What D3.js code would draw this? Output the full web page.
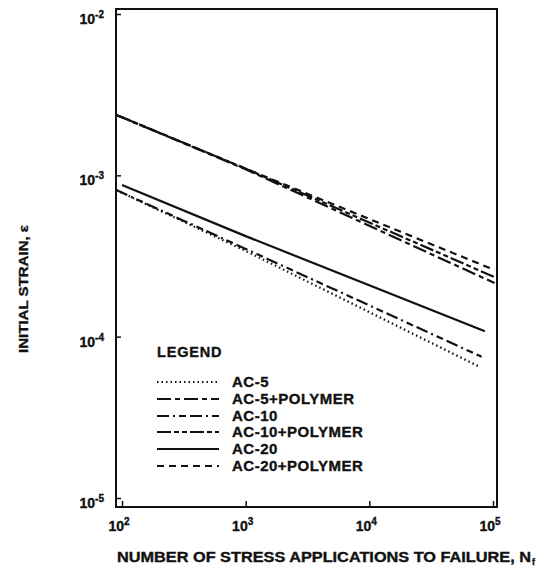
<!DOCTYPE html>
<html><head><meta charset="utf-8">
<script src="https://cdn.jsdelivr.net/npm/d3@7"></script>
<style>body{margin:0;background:#fff}svg text{font-family:"Liberation Sans",Arial,Helvetica,sans-serif;font-weight:bold;fill:#111;stroke:#111;stroke-width:0.35px}</style>
</head><body><div id="chart"></div>
<script>
// Series: [N, strain] pairs
const seriesNames = ["AC-5","AC-5+POLYMER","AC-10","AC-10+POLYMER","AC-20","AC-20+POLYMER"];
const ac5        = [[90, 8.1e-4],[1000, 3.4e-4],[78000, 6.5e-5]];
const ac5Poly    = [[91, 2.36e-3],[1000, 1.09e-3],[103000, 2.15e-4]];
const ac10       = [[90, 8.1e-4],[1000, 3.5e-4],[81000, 7.5e-5]];
const ac10Poly   = [[91, 2.36e-3],[1000, 1.10e-3],[103000, 2.34e-4]];
const ac20       = [[100, 8.7e-4],[1000, 4.2e-4],[86000, 1.08e-4]];
const ac20Poly   = [[91, 2.36e-3],[1000, 1.10e-3],[103000, 2.59e-4]];
const seriesData = [ac5, ac5Poly, ac10, ac10Poly, ac20, ac20Poly];
const dashes = ["1.5,3","14,4,5,4","12,4,2,4,7,4","14,3,5,3,5,3",null,"7,5"];
const xTicks = [100, 1000, 10000, 100000];
const xTickExp = ["2","3","4","5"];
const yTicks = [1e-2, 1e-3, 1e-4, 1e-5];
const yTickExp = ["-2","-3","-4","-5"];

const W = 543, H = 567;
const svg = d3.select("#chart").append("svg").attr("width", W).attr("height", H);
const x = d3.scaleLog().domain([100, 1e5]).range([122, 493]);
const y = d3.scaleLog().domain([1e-2, 1e-5]).range([14, 498]);
const frame = {l:116, r:497, t:9, b:507};

// data lines
const line = d3.line().x(d => x(d[0])).y(d => y(d[1]));
seriesData.forEach((s, i) => {
  svg.append("path").attr("d", line(s)).attr("fill","none").attr("stroke","#111")
    .attr("stroke-width", 2.2).attr("stroke-dasharray", dashes[i]);
});

// frame
svg.append("rect").attr("x", frame.l).attr("y", frame.t)
  .attr("width", frame.r - frame.l).attr("height", frame.b - frame.t)
  .attr("fill","none").attr("stroke","#111").attr("stroke-width",2);

// y axis ticks
const yAxis = d3.axisRight(y).tickValues(yTicks).tickSize(5).tickFormat("");
const gy = svg.append("g").attr("transform", `translate(${frame.l},0)`).call(yAxis);
gy.select(".domain").remove();
gy.selectAll("line").attr("stroke","#111").attr("stroke-width",1.5);
yTicks.forEach((t, i) => {
  const tx = svg.append("text").attr("x", 104).attr("y", y(t) + 10).attr("text-anchor","end").style("font-size","14px");
  tx.append("tspan").text("10");
  tx.append("tspan").attr("dy", -6).style("font-size","10px").text(yTickExp[i]);
});

// x axis ticks
const xAxis = d3.axisTop(x).tickValues(xTicks).tickSize(6).tickFormat("");
const gx = svg.append("g").attr("transform", `translate(0,${frame.b})`).call(xAxis);
gx.select(".domain").remove();
gx.selectAll("line").attr("stroke","#111").attr("stroke-width",1.5);
xTicks.forEach((t, i) => {
  const tx = svg.append("text").attr("x", x(t) - 3).attr("y", 531).attr("text-anchor","middle").style("font-size","14px");
  tx.append("tspan").text("10");
  tx.append("tspan").attr("dy", -6).style("font-size","10px").text(xTickExp[i]);
});

// axis titles
svg.append("text").attr("x", 117).attr("y", 562).style("font-size","14px")
  .attr("textLength", 414).attr("lengthAdjust","spacingAndGlyphs")
  .text("NUMBER OF STRESS APPLICATIONS  TO FAILURE, N");
svg.append("text").attr("x", 532).attr("y", 565).style("font-size","9px").text("f");
svg.append("text").attr("transform","translate(28,289) rotate(-90)").attr("text-anchor","middle")
  .style("font-size","13.5px").attr("textLength",128).attr("lengthAdjust","spacingAndGlyphs")
  .text("INITIAL STRAIN, \u03b5");

// legend
svg.append("text").attr("x", 157).attr("y", 357).style("font-size","14.5px").style("letter-spacing","0.8px").text("LEGEND");
const legY = [382, 399, 416, 432, 449, 466];
seriesNames.forEach((n, i) => {
  svg.append("line").attr("x1", 157).attr("x2", 219).attr("y1", legY[i]).attr("y2", legY[i])
    .attr("stroke","#111").attr("stroke-width",2.2).attr("stroke-dasharray", dashes[i]);
  svg.append("text").attr("x", 232).attr("y", legY[i] + 5).style("font-size","15px")
    .style("letter-spacing","0.5px").text(n);
});
</script></body></html>
